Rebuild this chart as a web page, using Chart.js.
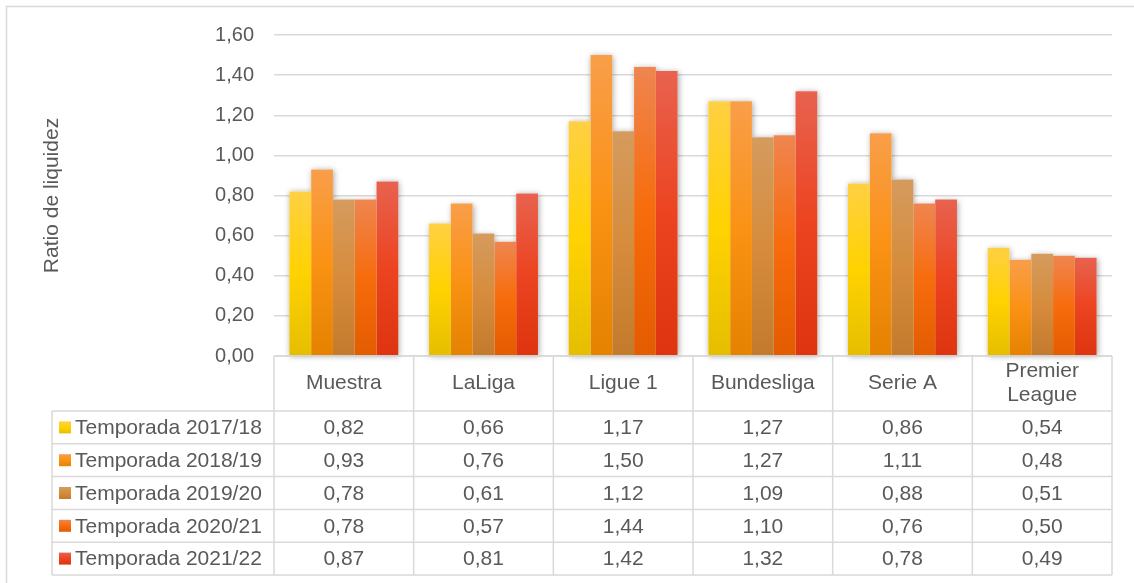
<!DOCTYPE html>
<html>
<head>
<meta charset="utf-8">
<script src="https://cdn.jsdelivr.net/npm/chart.js@4/dist/chart.umd.min.js"></script>
<style>
  html, body { margin: 0; padding: 0; background: #ffffff; }
  #wrap { position: relative; width: 1134px; height: 583px; }
</style>
</head>
<body>
<div id="wrap"><canvas id="c" width="1134" height="583"></canvas></div>
<script>
// ---- Data ----
const categories = ['Muestra', 'LaLiga', 'Ligue 1', 'Bundesliga', 'Serie A', ['Premier', 'League']];
const seriesNames = ['Temporada 2017/18', 'Temporada 2018/19', 'Temporada 2019/20', 'Temporada 2020/21', 'Temporada 2021/22'];
const s2017 = [0.82, 0.66, 1.17, 1.27, 0.86, 0.54];
const s2018 = [0.93, 0.76, 1.50, 1.27, 1.11, 0.48];
const s2019 = [0.78, 0.61, 1.12, 1.09, 0.88, 0.51];
const s2020 = [0.78, 0.57, 1.44, 1.10, 0.76, 0.50];
const s2021 = [0.87, 0.81, 1.42, 1.32, 0.78, 0.49];
const yTickLabels = ['0,00', '0,20', '0,40', '0,60', '0,80', '1,00', '1,20', '1,40', '1,60'];
const yAxisTitle = 'Ratio de liquidez';

// ---- Styles ----
const seriesValues = [s2017, s2018, s2019, s2020, s2021];
const gradStops = [
  ['#FFD043', '#FFD200', '#E5BE00'],
  ['#F99E4A', '#FA9214', '#E58200'],
  ['#D59B5E', '#D68C3C', '#C47A2C'],
  ['#EF8550', '#F76C0C', '#E35C00'],
  ['#E8624F', '#EC4420', '#DE3410']
];
const FONT = "'Liberation Sans', Arial, sans-serif";
const TEXT = '#595959';
const LINE = '#D9D9D9';

function fmt(v) { return v.toFixed(2).replace('.', ','); }

function makeGrad(ctx, top, bottom, stops) {
  const g = ctx.createLinearGradient(0, top, 0, bottom);
  g.addColorStop(0, stops[0]);
  g.addColorStop(0.5, stops[1]);
  g.addColorStop(1, stops[2]);
  return g;
}

const datasets = seriesValues.map((vals, si) => ({
  label: seriesNames[si],
  data: vals,
  borderWidth: 0,
  categoryPercentage: 0.78,
  barPercentage: 1.0,
  backgroundColor: (c) => {
    const chart = c.chart;
    if (!chart.chartArea || !chart.scales.y || c.type !== 'data') return gradStops[si][1];
    const y = chart.scales.y;
    const top = y.getPixelForValue(c.raw);
    const base = y.getPixelForValue(0);
    if (!isFinite(top) || base - top < 1) return gradStops[si][1];
    return makeGrad(chart.ctx, top, base, gradStops[si]);
  }
}));

const shadowPlugin = {
  id: 'groupShadow',
  beforeDatasetsDraw(chart) {
    const ctx = chart.ctx;
    ctx.save();
    ctx.shadowColor = 'rgba(0,0,0,0.35)';
    ctx.shadowBlur = 6;
    ctx.shadowOffsetX = 1;
    ctx.shadowOffsetY = 1;
    ctx.fillStyle = '#ffffff';
    chart.data.datasets.forEach((ds, di) => {
      const meta = chart.getDatasetMeta(di);
      meta.data.forEach(el => {
        const w = el.width;
        ctx.fillRect(el.x - w / 2, el.y, w, el.base - el.y);
      });
    });
    ctx.restore();
  }
};

const tablePlugin = {
  id: 'dataTable',
  afterDraw(chart) {
    const ctx = chart.ctx;
    const a = chart.chartArea;
    const n = categories.length;
    const colW = (a.right - a.left) / n;
    const headTop = a.bottom;
    const headBot = 411;
    const rowH = 32.8;
    const tableBot = headBot + rowH * seriesNames.length;
    const leftX = 52;

    // outer frame of whole chart
    ctx.save();
    ctx.strokeStyle = LINE;
    ctx.lineWidth = 1.5;
    ctx.strokeRect(6.5, 6.5, 1140, 600);

    // table lines
    ctx.strokeStyle = LINE;
    ctx.lineWidth = 1.5;
    ctx.beginPath();
    ctx.moveTo(a.left, headTop); ctx.lineTo(a.right, headTop);
    for (let r = 0; r <= seriesNames.length; r++) {
      const y = headBot + r * rowH;
      ctx.moveTo(leftX, y); ctx.lineTo(a.right, y);
    }
    for (let i = 0; i <= n; i++) {
      const x = a.left + i * colW;
      ctx.moveTo(x, headTop); ctx.lineTo(x, tableBot);
    }
    ctx.moveTo(leftX, headBot); ctx.lineTo(leftX, tableBot);
    ctx.stroke();

    // header text
    ctx.fillStyle = TEXT;
    ctx.font = '21px ' + FONT;
    ctx.textAlign = 'center';
    ctx.textBaseline = 'middle';
    const headMid = (headTop + headBot) / 2;
    categories.forEach((cat, i) => {
      const cx = a.left + (i + 0.5) * colW;
      if (Array.isArray(cat)) {
        const lh = 24;
        cat.forEach((line, k) => {
          ctx.fillText(line, cx, headMid + (k - (cat.length - 1) / 2) * lh);
        });
      } else {
        ctx.fillText(cat, cx, headMid);
      }
    });

    // rows
    seriesNames.forEach((name, r) => {
      const cy = headBot + (r + 0.5) * rowH;
      ctx.fillStyle = makeGrad(ctx, cy - 6, cy + 6, gradStops[r]);
      ctx.fillRect(59, cy - 6, 12, 12);
      ctx.fillStyle = TEXT;
      ctx.textAlign = 'left';
      ctx.fillText(name, 75, cy + 1);
      ctx.textAlign = 'center';
      seriesValues[r].forEach((v, i) => {
        const cx = a.left + (i + 0.5) * colW;
        ctx.fillText(fmt(v), cx, cy + 1);
      });
    });
    ctx.restore();
  }
};

new Chart(document.getElementById('c'), {
  type: 'bar',
  data: { labels: categories.map(c => Array.isArray(c) ? c.join(' ') : c), datasets },
  options: {
    responsive: false,
    devicePixelRatio: 1,
    animation: false,
    layout: { padding: { left: 0, top: 35, right: 22, bottom: 227 } },
    plugins: { legend: { display: false }, tooltip: { enabled: false } },
    scales: {
      x: { display: false },
      y: {
        min: 0, max: 1.6,
        afterFit(scale) { scale.width = 274; },
        border: { display: false },
        grid: { color: LINE, lineWidth: 1.5, drawTicks: false },
        ticks: {
          stepSize: 0.2,
          padding: 20,
          color: TEXT,
          font: { family: FONT, size: 20 },
          callback: (v, i) => yTickLabels[i]
        },
        title: {
          display: true,
          text: yAxisTitle,
          color: TEXT,
          font: { family: FONT, size: 21 },
          padding: { top: 40, bottom: 0 }
        }
      }
    }
  },
  plugins: [shadowPlugin, tablePlugin]
});
</script>
</body>
</html>
